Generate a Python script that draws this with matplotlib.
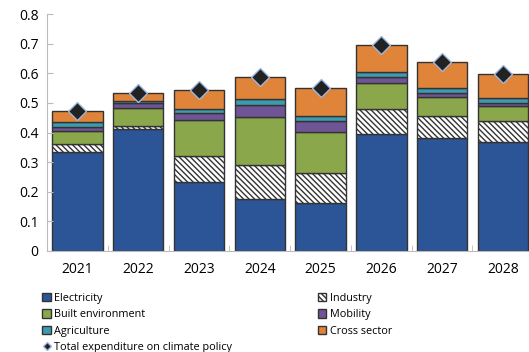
import matplotlib
matplotlib.use("Agg")
from matplotlib import pyplot as plt
import numpy as np

plt.rcParams['font.family'] = ['Open Sans', 'DejaVu Sans']
plt.rcParams['hatch.linewidth'] = 1.0

years = ['2021', '2022', '2023', '2024', '2025', '2026', '2027', '2028']
electricity = [0.333, 0.411, 0.234, 0.176, 0.161, 0.394, 0.381, 0.367]
industry = [0.027, 0.011, 0.088, 0.115, 0.101, 0.086, 0.076, 0.073]
built_env = [0.045, 0.062, 0.121, 0.161, 0.139, 0.086, 0.062, 0.048]
mobility = [0.012, 0.015, 0.022, 0.041, 0.037, 0.023, 0.014, 0.011]
agriculture = [0.018, 0.008, 0.014, 0.019, 0.018, 0.016, 0.017, 0.017]
cross_sector = [0.038, 0.027, 0.065, 0.075, 0.094, 0.092, 0.087, 0.082]
total = [0.473, 0.534, 0.544, 0.587, 0.550, 0.697, 0.637, 0.598]

fig = plt.figure(figsize=(5.29, 3.52), dpi=100)
ax = fig.add_axes([0.089, 0.287, 0.919, 0.673])

x = np.arange(len(years))
w = 0.83
edge = '#333333'
bottom = np.zeros(len(years))
series = [
    ('Electricity', electricity, '#2B5597', None),
    ('Industry', industry, 'white', '\\\\\\\\\\\\'),
    ('Built environment', built_env, '#8AA84B', None),
    ('Mobility', mobility, '#6F5496', None),
    ('Agriculture', agriculture, '#3C9BB0', None),
    ('Cross sector', cross_sector, '#E0843A', None),
]
bars = {}
for name, vals, col, hatch in series:
    bars[name] = ax.bar(x, vals, w, bottom=bottom, color=col, edgecolor=edge,
                        linewidth=1.0, hatch=hatch, label=name)
    bottom = bottom + np.array(vals)

tot, = ax.plot(x, total, linestyle='none', marker='D', markersize=9,
               markerfacecolor='#222222', markeredgecolor='#9DB7DD',
               markeredgewidth=1, label='Total expenditure on climate policy')

ax.set_xlim(-0.5, 7.5)
ax.set_ylim(0, 0.8)
ax.set_yticks(np.arange(0, 0.81, 0.1))
ax.set_yticklabels(['0', '0.1', '0.2', '0.3', '0.4', '0.5', '0.6', '0.7', '0.8'])
ax.set_xticks(x)
ax.set_xticklabels(years)
ax.set_xticks(np.arange(-0.5, 7.6, 1), minor=True)
ax.tick_params(axis='x', which='major', length=0, labelsize=10, pad=8)
ax.tick_params(axis='x', which='minor', direction='in', length=4, color='#bbbbbb')
ax.tick_params(axis='y', direction='in', length=4, color='#bbbbbb', labelsize=10, pad=6)
for s in ['top', 'right']:
    ax.spines[s].set_visible(False)
ax.spines['left'].set_color('#bbbbbb')
ax.spines['bottom'].set_color('#bbbbbb')

handles = [bars['Electricity'], bars['Built environment'], bars['Agriculture'], tot,
           bars['Industry'], bars['Mobility'], bars['Cross sector']]
labels = ['Electricity', 'Built environment', 'Agriculture',
          'Total expenditure on climate policy', 'Industry', 'Mobility', 'Cross sector']
leg = fig.legend(handles, labels, ncol=2, loc='upper left', bbox_to_anchor=(0.08, 0.168),
                 frameon=False, fontsize=7.8, handlelength=0.8, handleheight=0.8,
                 handletextpad=0.3, labelspacing=0.5, columnspacing=7.9,
                 borderaxespad=0, borderpad=0)
for h in leg.legend_handles:
    if hasattr(h, 'set_markersize'):
        h.set_markersize(4.5)

fig.savefig('out.png', dpi=100)
